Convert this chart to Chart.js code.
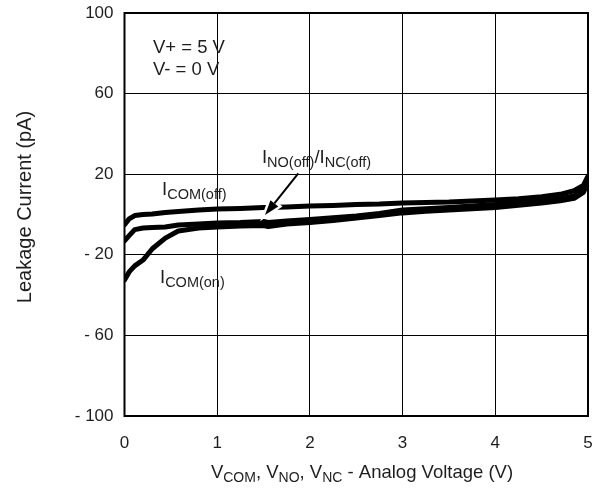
<!DOCTYPE html>
<html>
<head>
<meta charset="utf-8">
<script src="https://cdn.jsdelivr.net/npm/chart.js@4.4.1/dist/chart.umd.min.js"></script>
<style>
  html, body { margin: 0; padding: 0; background: #fff; }
  #wrap { width: 603px; height: 497px; position: relative; }
</style>
</head>
<body>
<div id="wrap"><canvas id="leak"></canvas></div>
<script>
// Analog voltage sweep (V)
const voltage = [0, 0.05, 0.11, 0.2, 0.3, 0.44, 0.58, 0.8, 1.0, 1.25, 1.5, 1.55, 1.75, 2.0, 2.25, 2.5, 2.75, 3.0, 3.25, 3.5, 3.75, 4.0, 4.25, 4.5, 4.7, 4.85, 4.95, 5.0];

// Leakage currents (pA)
const iComOff  = [-5, -2.2, -0.5, 0, 0.2, 1, 1.5, 2.2, 2.7, 3, 3.5, 3.5, 3.7, 4.2, 4.5, 5, 5.2, 5.7, 6, 6.2, 6.7, 7.2, 7.8, 8.8, 10, 11.8, 14.5, 19];
const iNoNcOff = [-13, -10.5, -7.5, -6.7, -6.5, -6.2, -5.2, -4.7, -4.2, -4, -3.5, -4, -3.2, -2.5, -1.6, -0.7, 0.5, 2.2, 2.8, 3.5, 4.2, 5, 5.8, 6.8, 7.8, 9.2, 12, 17];
const iComOn   = [-32.5, -28.5, -25.5, -22.6, -17, -11.7, -8.2, -6.7, -6.2, -5.7, -5.5, -6, -4.7, -4, -3, -1.8, -0.5, 0.8, 1.6, 2.2, 2.8, 3.5, 4.6, 5.7, 6.8, 8, 11, 16];

// Axis ticks
const yTickValues = [-100, -60, -20, 20, 60, 100];
const yTickLabels = ['- 100', '- 60', '- 20', '20', '60', '100'];
const xTickValues = [0, 1, 2, 3, 4, 5];
const xTickLabels = ['0', '1', '2', '3', '4', '5'];

const FONT = '"Liberation Sans", Arial, Helvetica, sans-serif';
const TEXT = '#1e1e1e';

const toPoints = (ys) => voltage.map((v, i) => ({ x: v, y: ys[i] }));

// Draws a label made of normal and subscript runs
function drawRich(ctx, parts, x, y, size, subSize, align) {
  let total = 0;
  parts.forEach(p => {
    ctx.font = (p.sub ? subSize : size) + 'px ' + FONT;
    total += ctx.measureText(p.t).width;
  });
  let cx = align === 'center' ? x - total / 2 : x;
  ctx.textAlign = 'left';
  ctx.textBaseline = 'alphabetic';
  parts.forEach(p => {
    ctx.font = (p.sub ? subSize : size) + 'px ' + FONT;
    ctx.fillText(p.t, cx, p.sub ? y + 4 : y);
    cx += ctx.measureText(p.t).width;
  });
}

const annotations = {
  id: 'annotations',
  afterDatasetsDraw(chart) {
    const { ctx, scales: { x, y }, chartArea: a } = chart;
    ctx.save();
    // plot frame
    ctx.strokeStyle = '#000';
    ctx.lineWidth = 2;
    ctx.strokeRect(a.left, a.top, a.right - a.left, a.bottom - a.top);

    ctx.fillStyle = TEXT;
    ctx.font = '18.5px ' + FONT;
    ctx.textAlign = 'left';
    ctx.textBaseline = 'alphabetic';
    ctx.fillText('V+ = 5 V', x.getPixelForValue(0.307), y.getPixelForValue(80.1));
    ctx.fillText('V- = 0 V', x.getPixelForValue(0.307), y.getPixelForValue(69.2));

    drawRich(ctx, [{ t: 'I' }, { t: 'COM(off)', sub: true }], x.getPixelForValue(0.405), y.getPixelForValue(9.7), 18.5, 14.5);
    drawRich(ctx, [{ t: 'I' }, { t: 'COM(on)', sub: true }], x.getPixelForValue(0.383), y.getPixelForValue(-34.0), 18.5, 14.5);
    drawRich(ctx, [{ t: 'I' }, { t: 'NO(off)', sub: true }, { t: '/I' }, { t: 'NC(off)', sub: true }],
      x.getPixelForValue(1.483), y.getPixelForValue(25.6), 18.5, 14.5);

    // arrow pointing at the I_NO(off)/I_NC(off) curve
    const x0 = x.getPixelForValue(1.875), y0 = y.getPixelForValue(20.45);
    const x1 = x.getPixelForValue(1.516), y1 = y.getPixelForValue(-0.25);
    const ang = Math.atan2(y1 - y0, x1 - x0);
    const headLen = 15, headHalf = 5;
    const bx = x1 - headLen * Math.cos(ang), by = y1 - headLen * Math.sin(ang);
    const head = () => {
      ctx.beginPath();
      ctx.moveTo(x1, y1);
      ctx.lineTo(bx + headHalf * Math.sin(ang), by - headHalf * Math.cos(ang));
      ctx.lineTo(bx - headHalf * Math.sin(ang), by + headHalf * Math.cos(ang));
      ctx.closePath();
    };
    // white halo so the arrow cuts through the upper curve
    ctx.strokeStyle = '#fff';
    ctx.fillStyle = '#fff';
    ctx.lineWidth = 7;
    ctx.beginPath(); ctx.moveTo(x0 + 20 * Math.cos(ang), y0 + 20 * Math.sin(ang)); ctx.lineTo(bx, by); ctx.stroke();
    ctx.lineWidth = 5;
    ctx.lineJoin = 'miter';
    head(); ctx.stroke();
    // arrow itself
    ctx.strokeStyle = '#000';
    ctx.fillStyle = '#000';
    ctx.lineWidth = 2;
    ctx.beginPath(); ctx.moveTo(x0, y0); ctx.lineTo(bx, by); ctx.stroke();
    head(); ctx.fill();

    // axis titles
    ctx.fillStyle = TEXT;
    drawRich(ctx, [
      { t: 'V' }, { t: 'COM', sub: true }, { t: ', V' }, { t: 'NO', sub: true },
      { t: ', V' }, { t: 'NC', sub: true }, { t: ' - Analog Voltage (V)' }
    ], 362, a.bottom + 62, 18.5, 14, 'center');

    ctx.save();
    ctx.translate(25, 207);
    ctx.rotate(-Math.PI / 2);
    ctx.font = '20px ' + FONT;
    ctx.textAlign = 'center';
    ctx.textBaseline = 'middle';
    ctx.fillText('Leakage Current (pA)', 0, 0);
    ctx.restore();
    ctx.restore();
  }
};

const lineStyle = {
  borderColor: '#000',
  borderWidth: 5,
  pointRadius: 0,
  tension: 0,
  fill: false,
  borderJoinStyle: 'round',
  borderCapStyle: 'round'
};

new Chart(document.getElementById('leak'), {
  type: 'line',
  data: {
    datasets: [
      { label: 'ICOM(off)', data: toPoints(iComOff), ...lineStyle },
      { label: 'INO(off)/INC(off)', data: toPoints(iNoNcOff), ...lineStyle },
      { label: 'ICOM(on)', data: toPoints(iComOn), ...lineStyle }
    ]
  },
  options: {
    responsive: true,
    maintainAspectRatio: false,
    animation: false,
    events: [],
    layout: { padding: { left: 0, top: 13, right: 15, bottom: 0 } },
    plugins: { legend: { display: false }, tooltip: { enabled: false } },
    scales: {
      x: {
        type: 'linear',
        min: 0,
        max: 5,
        afterBuildTicks: (s) => { s.ticks = xTickValues.map(v => ({ value: v })); },
        afterFit: (s) => { s.height = 81; s.paddingLeft = 0; s.paddingRight = 0; },
        grid: { color: '#000', lineWidth: 1, drawTicks: false },
        border: { display: false },
        ticks: {
          padding: 17,
          color: TEXT,
          font: { family: FONT, size: 17 },
          maxRotation: 0,
          callback: (v) => xTickLabels[xTickValues.indexOf(v)]
        }
      },
      y: {
        min: -100,
        max: 100,
        afterBuildTicks: (s) => { s.ticks = yTickValues.map(v => ({ value: v })); },
        afterFit: (s) => { s.width = 124.5; s.paddingTop = 0; s.paddingBottom = 0; },
        grid: { color: '#000', lineWidth: 1, drawTicks: false },
        border: { display: false },
        ticks: {
          padding: 11,
          color: TEXT,
          font: { family: FONT, size: 17 },
          callback: (v) => yTickLabels[yTickValues.indexOf(v)]
        }
      }
    }
  },
  plugins: [annotations]
});
</script>
</body>
</html>
